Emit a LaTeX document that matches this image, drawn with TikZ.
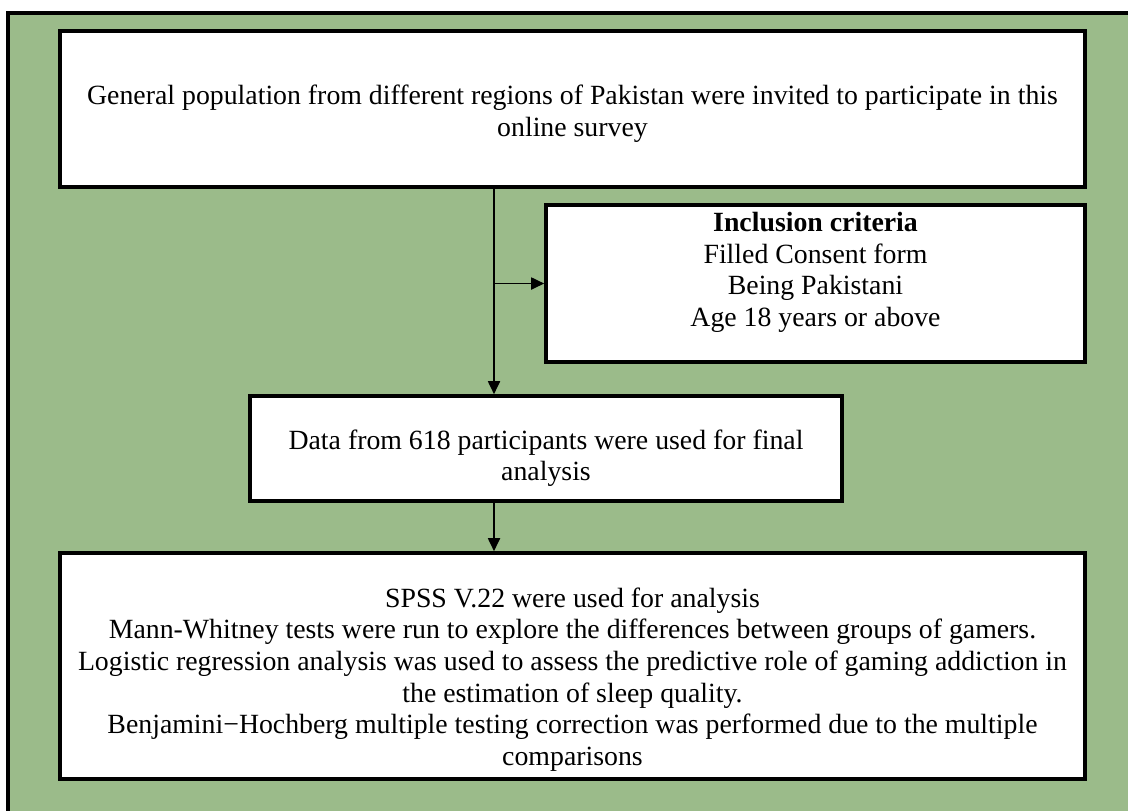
\documentclass[tikz,border=0pt]{standalone}
\usepackage{fontspec}
\setmainfont{Liberation Serif}
\usetikzlibrary{arrows.meta}
\definecolor{bggreen}{RGB}{155,187,138}
\newcommand\txtlines[2][0pt]{\raisebox{#1}[\height][\depth]{\begin{tabular}{@{}c@{}}#2\end{tabular}}}
\begin{document}
\begin{tikzpicture}[x=0.5pt,y=-0.5pt,
  box/.style={draw=black,line width=1.8pt,fill=white,inner sep=0pt,
    font=\fontsize{13.9}{15.8}\selectfont},
  arr/.style={draw=black,line width=0.9pt,-{Triangle[length=6.5pt,width=6pt]}}]
\useasboundingbox (0,0) rectangle (1128,810);
\clip (0,0) rectangle (1128,810);
\fill[white] (0,0) rectangle (1128,810);
\fill[bggreen] (8,13) rectangle (1140,820);
\draw[line width=2pt] (8,820) -- (8,13) -- (1140,13);
\node[box,minimum width=512.5pt,minimum height=78pt] (top) at (572.5,109)
  {\txtlines[-2.5pt]{General population from different regions of Pakistan were invited to participate in this\\online survey}};
\node[box,minimum width=269.5pt,minimum height=78.5pt] (incl) at (815.5,283.5)
  {\txtlines[5.5pt]{\textbf{Inclusion criteria}\\Filled Consent form\\Being Pakistani\\Age 18 years or above}};
\node[box,minimum width=296pt,minimum height=52.5pt] (data) at (546,448.5)
  {\txtlines[-5pt]{Data from 618 participants were used for final\\analysis}};
\node[box,minimum width=512.5pt,minimum height=113pt] (bot) at (572.5,666)
  {\txtlines[-7pt]{SPSS V.22 were used for analysis\\Mann-Whitney tests were run to explore the differences between groups of gamers.\\Logistic regression analysis was used to assess the predictive role of gaming addiction in\\the estimation of sleep quality.\\Benjamini\textminus Hochberg multiple testing correction was performed due to the multiple\\comparisons}};
\coordinate (ax) at (494,0);
\coordinate (j) at (494,283.5);
\draw[arr] (top.south -| ax) -- (data.north -| ax);
\draw[arr] (j) -- (incl.west);
\draw[arr] (data.south -| ax) -- (bot.north -| ax);
\end{tikzpicture}
\end{document}
